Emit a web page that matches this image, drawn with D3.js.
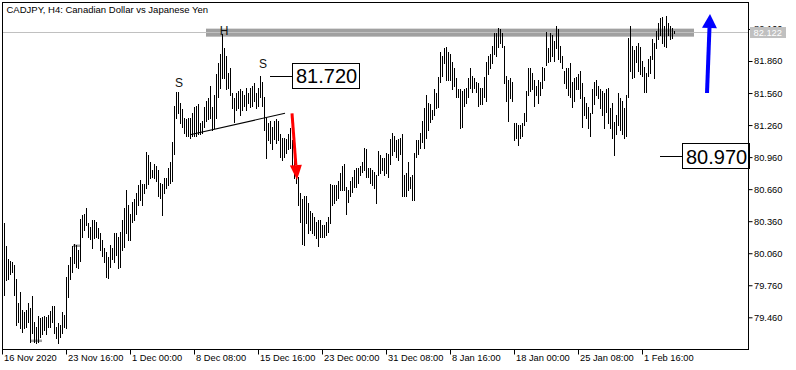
<!DOCTYPE html>
<html lang="en">
  <head>
    <meta charset="utf-8">
    <title>CADJPY, H4</title>
    <script type="text/javascript" src="https://d3js.org/d3.v7.min.js"></script>
    <style type="text/css">

    body {
      margin: 0;
      background: #fff;
    }

    .title {
      font-family: "Liberation Sans", sans-serif;
      font-size: 9.5px;
      fill: #000;
    }

    .axis path {
      display: none;
    }
    .axis line {
      stroke: #000;
    }
    .axis text {
      font-family: "Liberation Sans", sans-serif;
      font-size: 9.3px;
      fill: #000;
    }

    .mark {
      font-family: "Liberation Sans", sans-serif;
      font-size: 12px;
      text-anchor: middle;
      fill: #111;
    }

    .level text {
      font-family: "Liberation Sans", sans-serif;
      font-size: 20px;
      fill: #000;
    }

    </style>
  </head>
  <body>
    <svg width="796" height="370" id="chart"></svg>

    <script type="text/javascript">

// bar highs / lows, one bar every 4 hours (16 Nov 2020 .. 5 Feb 2021)
    const highs = [
      80.34,80.13,80.01,79.99,79.98,79.95,79.82,79.59,79.70,79.53,79.51,79.53,79.59,79.55,79.66,79.42,79.37,79.47,79.45,79.46,79.47,79.46,79.48,79.52,79.57,79.57,79.37,79.41,79.39,79.51,79.48,79.84,79.95,80.02,80.13,80.15,80.14,80.09,80.38,80.42,80.43,80.48,80.34,80.31,80.37,80.37,80.35,80.30,
      80.25,80.18,80.11,80.07,80.02,80.14,80.11,80.25,80.25,80.21,80.26,80.37,80.48,80.65,80.51,80.43,80.54,80.57,80.62,80.70,80.75,80.71,80.71,81.01,80.98,80.91,80.84,80.90,80.88,80.84,80.72,80.71,80.76,80.76,80.86,80.91,81.10,81.44,81.57,81.57,81.47,81.41,81.33,81.32,81.33,81.33,81.37,81.43,81.44,81.46,
      81.28,81.30,81.43,81.49,81.51,81.63,81.43,81.54,81.74,81.84,81.93,82.11,81.98,81.91,81.75,81.79,81.56,81.51,81.56,81.58,81.60,81.58,81.54,81.61,81.56,81.61,81.63,81.65,81.56,81.61,81.72,81.66,81.52,81.33,81.28,81.30,81.24,81.30,81.32,81.30,81.18,81.14,81.14,81.13,81.18,81.23,81.12,80.93,80.82,80.77,
      80.62,80.57,80.60,80.60,80.53,80.46,80.44,80.40,80.35,80.37,80.37,80.32,80.32,80.35,80.40,80.71,80.70,80.70,80.70,80.74,80.81,80.88,80.90,80.68,80.65,80.74,80.77,80.84,80.86,80.86,80.88,80.91,81.05,81.04,80.86,80.86,80.84,80.82,80.79,81.02,80.98,80.95,80.95,81.00,80.99,81.13,81.19,81.16,81.12,81.13,
      81.14,81.18,80.79,80.81,80.91,80.77,80.79,81.00,81.12,81.12,81.19,81.30,81.42,81.54,81.47,81.46,81.40,81.60,81.56,81.71,81.94,81.91,81.98,81.99,81.94,81.93,81.85,81.79,81.70,81.60,81.60,81.58,81.60,81.61,81.70,81.79,81.72,81.70,81.66,81.65,81.61,81.61,81.71,81.85,81.91,81.93,82.00,82.12,82.12,82.17,
      82.16,82.12,82.00,81.72,81.68,81.70,81.66,81.28,81.28,81.26,81.26,81.28,81.37,81.58,81.79,81.79,81.75,81.68,81.63,81.68,81.66,81.80,81.79,82.13,81.98,82.12,82.10,82.05,82.19,82.16,82.00,81.91,81.77,81.79,81.79,81.84,81.66,81.70,81.71,81.74,81.77,81.65,81.52,81.47,81.43,
      81.37,81.60,81.66,81.68,81.63,81.60,81.58,81.56,81.60,81.61,81.42,81.47,81.29,81.35,81.56,81.51,81.49,81.42,81.54,82.08,82.19,82.00,81.96,82.00,82.03,81.99,81.86,81.80,81.75,81.88,81.91,82.07,82.03,82.14,82.22,82.26,82.27,82.19,82.28,82.22,82.19,82.17,82.14
    ];

    const lows = [
      79.67,79.81,79.82,79.87,79.88,79.67,79.39,79.42,79.36,79.32,79.36,79.37,79.42,79.23,79.31,79.23,79.22,79.23,79.28,79.30,79.34,79.30,79.37,79.37,79.42,79.31,79.27,79.22,79.28,79.31,79.37,79.36,79.65,79.82,79.88,79.97,79.93,79.92,79.99,80.21,80.28,80.32,80.21,80.19,80.11,80.20,80.21,80.20,
      80.09,80.03,79.98,79.84,79.83,79.93,80.01,79.98,80.04,79.92,79.93,80.09,80.12,80.25,80.18,80.18,80.35,80.37,80.43,80.51,80.56,80.51,80.62,80.67,80.71,80.76,80.77,80.76,80.74,80.60,80.58,80.42,80.62,80.67,80.70,80.72,80.74,80.99,81.33,81.37,81.28,81.24,81.19,81.16,81.16,81.14,81.16,81.16,81.16,81.18,
      81.18,81.19,81.24,81.30,81.32,81.33,81.21,81.23,81.33,81.52,81.61,81.70,81.70,81.60,81.61,81.54,81.42,81.29,81.40,81.42,81.35,81.40,81.44,81.40,81.47,81.43,81.44,81.49,81.42,81.44,81.52,81.44,81.21,80.95,81.12,81.09,81.04,81.13,81.09,81.12,80.96,80.93,80.96,81.00,81.04,81.05,80.88,80.76,80.72,80.51,
      80.35,80.15,80.14,80.34,80.25,80.28,80.25,80.23,80.20,80.13,80.21,80.21,80.21,80.23,80.26,80.34,80.51,80.53,80.56,80.58,80.65,80.65,80.65,80.43,80.54,80.60,80.63,80.68,80.68,80.72,80.79,80.82,80.84,80.77,80.77,80.72,80.70,80.67,80.53,80.79,80.81,80.84,80.79,80.81,80.77,80.90,80.98,81.02,80.96,80.93,
      80.99,80.60,80.60,80.60,80.65,80.67,80.56,80.56,80.96,80.99,81.05,81.10,81.05,81.14,81.21,81.29,81.32,81.35,81.42,81.43,81.66,81.72,81.84,81.68,81.68,81.68,81.60,81.63,81.52,81.52,81.23,81.24,81.44,81.47,81.52,81.61,81.57,81.61,81.57,81.44,81.46,81.46,81.52,81.49,81.74,81.79,81.84,81.93,81.91,81.99,
      82.03,81.99,81.65,81.49,81.30,81.51,81.49,81.12,81.14,81.07,81.14,81.16,81.26,81.30,81.54,81.58,81.60,81.44,81.54,81.47,81.54,81.61,81.68,81.82,81.85,81.86,81.91,81.86,81.98,81.88,81.85,81.79,81.65,81.61,81.54,81.52,81.43,81.49,81.60,81.60,81.51,81.24,81.35,81.33,81.23,
      81.16,81.37,81.46,81.54,81.51,81.42,81.35,81.23,81.38,81.28,81.23,81.14,80.98,81.18,81.26,81.21,81.18,81.14,81.16,81.52,81.77,81.70,81.71,81.85,81.77,81.74,81.72,81.57,81.57,81.72,81.75,81.88,81.70,81.98,82.07,82.10,82.03,82.00,81.99,82.10,82.07,82.08,82.12
    ];

    const timeLabels = ["16 Nov 2020", "23 Nov 16:00", "1 Dec 00:00", "8 Dec 08:00", "15 Dec 16:00",
      "23 Dec 00:00", "31 Dec 08:00", "8 Jan 16:00", "18 Jan 00:00", "25 Jan 08:00", "1 Feb 16:00"];
    const timeLabelBars = [-1, 31, 63, 95, 127, 159, 191, 223, 255, 287, 319];

    const priceTicks = [79.46, 79.76, 80.06, 80.36, 80.66, 80.96, 81.26, 81.56, 81.86, 82.16];
    const lastPrice = 82.122;
    const levelPrices = [81.72, 80.97];

    const n = Math.min(highs.length, lows.length);

    const svg = d3.select("#chart");

    const frameL = 2, frameR = 748, frameT = 2, frameB = 349;

    const xScale = d3.scaleLinear()
        .domain([0, 335])
        .range([4, 674]);

    const yScale = d3.scaleLinear()
        .domain([79.46, 81.86])
        .range([317.3, 61]);

    const px = v => Math.round(v) + 0.5;

// resistance zone + bid line
    svg.append("rect")
        .attr("x", xScale(101))
        .attr("y", yScale(82.163))
        .attr("width", xScale(345) - xScale(101))
        .attr("height", yScale(82.088) - yScale(82.163))
        .attr("fill", "#a0a0a0");

    svg.append("line")
        .attr("x1", frameL)
        .attr("x2", frameR)
        .attr("y1", px(yScale(lastPrice)) - 1)
        .attr("y2", px(yScale(lastPrice)) - 1)
        .attr("stroke", "#c0c0c0");

// small grey dashes left in the chart
    [[13, 19, 79.24], [34.5, 38, 80.13]].forEach(d => {
      svg.append("line")
          .attr("x1", xScale(d[0]))
          .attr("x2", xScale(d[1]))
          .attr("y1", yScale(d[2]))
          .attr("y2", yScale(d[2]))
          .attr("stroke", "#a0a0a0")
          .attr("stroke-width", 2.5);
    });

// bars
    svg.append("g")
        .selectAll("line")
        .data(d3.range(n))
        .join("line")
        .attr("x1", i => px(xScale(i)))
        .attr("x2", i => px(xScale(i)))
        .attr("y1", i => Math.round(yScale(highs[i])))
        .attr("y2", i => Math.round(yScale(lows[i])) + 1)
        .attr("stroke", "#000")
        .attr("stroke-width", 1);

// neckline
    svg.append("line")
        .attr("x1", xScale(93))
        .attr("y1", yScale(81.17))
        .attr("x2", xScale(140.5))
        .attr("y2", yScale(81.37))
        .attr("stroke", "#000")
        .attr("stroke-width", 1.1);

// S - H - S
    [["S", 87.5, 81.62], ["H", 110, 82.10], ["S", 129.5, 81.79]].forEach(d => {
      svg.append("text")
          .attr("class", "mark")
          .attr("x", xScale(d[1]))
          .attr("y", yScale(d[2]))
          .text(d[0]);
    });

// level labels with connector
    [[133, 144], [328, 339]].forEach((a, k) => {
      const yy = yScale(levelPrices[k]);
      const g = svg.append("g").attr("class", "level");
      g.append("line")
          .attr("x1", xScale(a[0]))
          .attr("x2", xScale(a[1]))
          .attr("y1", px(yy))
          .attr("y2", px(yy))
          .attr("stroke", "#000");
      const box = g.append("rect")
          .attr("x", px(xScale(a[1])))
          .attr("y", px(yy - 13))
          .attr("height", 25)
          .attr("fill", "#fff")
          .attr("stroke", "#000");
      const t = g.append("text")
          .attr("x", xScale(a[1]) + 4)
          .attr("y", yy + 7.5)
          .text(d3.format(".3f")(levelPrices[k]));
      box.attr("width", Math.round(t.node().getComputedTextLength()) + 6);
    });

// arrows
    function arrow(x1, y1, x2, y2, color, w, headLen, headW) {
      const dx = x2 - x1, dy = y2 - y1;
      const len = Math.sqrt(dx * dx + dy * dy);
      const ux = dx / len, uy = dy / len;
      const bx = x2 - ux * headLen, by = y2 - uy * headLen;
      svg.append("line")
          .attr("x1", x1).attr("y1", y1)
          .attr("x2", bx).attr("y2", by)
          .attr("stroke", color)
          .attr("stroke-width", w);
      svg.append("path")
          .attr("d", "M" + x2 + "," + y2 +
            "L" + (bx - uy * headW / 2) + "," + (by + ux * headW / 2) +
            "L" + (bx + uy * headW / 2) + "," + (by - ux * headW / 2) + "Z")
          .attr("fill", color);
    }

    arrow(xScale(144), yScale(81.37), xScale(146.5), yScale(80.745), "#ff0000", 3, 15, 12);
    arrow(xScale(351.5), yScale(81.56), xScale(353), yScale(82.30), "#0000ff", 4, 14, 15);

// frame
    svg.append("rect")
        .attr("x", frameL + 0.5)
        .attr("y", frameT + 0.5)
        .attr("width", frameR - frameL)
        .attr("height", frameB - frameT)
        .attr("fill", "none")
        .attr("stroke", "#000");

// axes
    const rightAxis = d3.axisRight(yScale)
        .tickValues(priceTicks)
        .tickFormat(d3.format(".3f"))
        .tickSize(4)
        .tickPadding(1.5);

    svg.append("g")
        .attr("class", "axis")
        .attr("transform", "translate(" + (frameR + 0.5) + ",0)")
        .call(rightAxis);

    const bottomAxis = d3.axisBottom(xScale)
        .tickValues(timeLabelBars)
        .tickFormat((d, i) => timeLabels[i])
        .tickSize(5)
        .tickPadding(0);

    svg.append("g")
        .attr("class", "axis")
        .attr("transform", "translate(0," + (frameB + 0.5) + ")")
        .call(bottomAxis)
        .selectAll("text")
          .style("text-anchor", "start")
          .attr("x", 1.5);

// current price tag
    svg.append("rect")
        .attr("x", 750)
        .attr("y", yScale(lastPrice) - 6)
        .attr("width", 36)
        .attr("height", 11)
        .attr("fill", "#c0c0c0");

    svg.append("text")
        .attr("x", 753.5)
        .attr("y", yScale(lastPrice) + 3)
        .style("font-family", "Liberation Sans, sans-serif")
        .style("font-size", "9.3px")
        .attr("fill", "#fff")
        .text(d3.format(".3f")(lastPrice));

    svg.append("text")
        .attr("class", "title")
        .attr("x", 6.5)
        .attr("y", 13)
        .text("CADJPY, H4:  Canadian Dollar vs Japanese Yen");

    </script>
  </body>
</html>
